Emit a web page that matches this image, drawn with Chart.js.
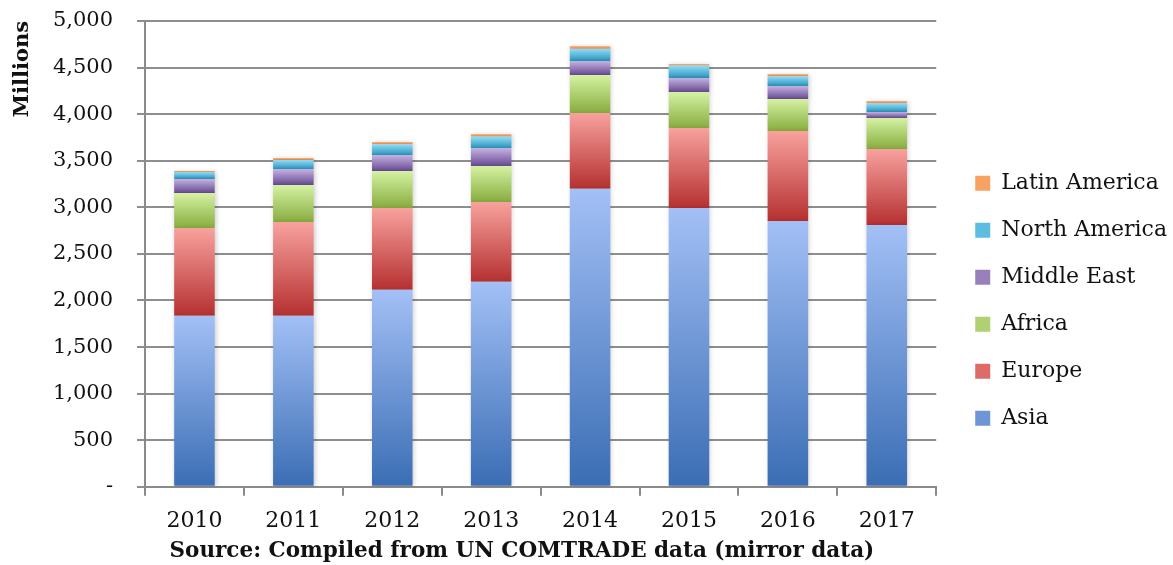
<!DOCTYPE html>
<html>
<head>
<meta charset="utf-8">
<script src="https://cdn.jsdelivr.net/npm/chart.js@4.4.0/dist/chart.umd.min.js"></script>
<style>
  html, body { margin: 0; padding: 0; background: #fff; }
  #wrap { width: 1173px; height: 565px; }
</style>
</head>
<body>
<div id="wrap"><canvas id="barChart"></canvas></div>
<script>
var years = ['2010', '2011', '2012', '2013', '2014', '2015', '2016', '2017'];
var asia        = [1835, 1835, 2114, 2200, 3198, 2994, 2854, 2811];
var europe      = [944, 1008, 880, 858, 815, 858, 966, 816];
var africa      = [376, 397, 397, 386, 408, 386, 343, 332];
var middleEast  = [150, 172, 171, 193, 150, 151, 140, 65];
var northAm     = [75, 97, 115, 122, 132, 132, 104, 93];
var latinAm     = [11, 21, 25, 29, 29, 18, 24, 25];
var seriesNames = ['Asia', 'Europe', 'Africa', 'Middle East', 'North America', 'Latin America'];
var yTicks = [0, 500, 1000, 1500, 2000, 2500, 3000, 3500, 4000, 4500, 5000];

var serif = "'DejaVu Serif', serif";
var allSeries = [asia, europe, africa, middleEast, northAm, latinAm];
// light top, dark bottom, flat colour for the legend box
var shades = [
    ['#a3c0f6', '#3a6db4', '#6e95d6'],
    ['#f8a29e', '#b53030', '#dd6b68'],
    ['#d5f2a3', '#88ad3f', '#afd172'],
    ['#c6b3e2', '#674a92', '#9880bd'],
    ['#93dcf7', '#2996bd', '#5cbde0'],
    ['#fbbf8e', '#f5883a', '#f8a262']
];

function barFill(d) {
    return function (c) {
        var chart = c.chart;
        var y = chart.scales.y;
        if (!y || c.dataIndex === undefined) return shades[d][2];
        var base = 0;
        for (var k = 0; k < d; k++) base += allSeries[k][c.dataIndex];
        var top = base + allSeries[d][c.dataIndex];
        var y0 = y.getPixelForValue(top), y1 = y.getPixelForValue(base);
        if (!isFinite(y0) || !isFinite(y1) || y0 === y1) return shades[d][2];
        var g = chart.ctx.createLinearGradient(0, y0, 0, y1);
        g.addColorStop(0, shades[d][0]);
        g.addColorStop(1, shades[d][1]);
        return g;
    };
}

var datasets = allSeries.map(function (vals, d) {
    return {
        label: seriesNames[d],
        data: vals,
        backgroundColor: barFill(d),
        borderWidth: 0,
        categoryPercentage: 1,
        barPercentage: 0.41
    };
});

// nudge the legend to the right and give the bars a soft shadow
var tweaks = {
    id: 'tweaks',
    afterLayout: function (chart) {
        if (chart.legend) {
            chart.legend.left += 14;
            chart.legend.right += 14;
        }
    },
    beforeDatasetsDraw: function (chart) {
        var c = chart.ctx;
        c.save();
        c.shadowColor = 'rgba(0,0,0,0.22)';
        c.shadowBlur = 5;
        c.shadowOffsetX = 1;
        c.shadowOffsetY = 1;
    },
    afterDatasetsDraw: function (chart) {
        chart.ctx.restore();
    }
};

var ctx = document.getElementById('barChart').getContext('2d');
var myChart = new Chart(ctx, {
    type: 'bar',
    data: { labels: years, datasets: datasets },
    plugins: [tweaks],
    options: {
        responsive: true,
        maintainAspectRatio: false,
        animation: false,
        layout: { padding: { top: 0, left: 10, right: 10, bottom: 1 } },
        plugins: {
            tooltip: { enabled: false },
            legend: {
                position: 'right',
                reverse: true,
                title: { display: true, text: ' ', padding: 8, font: { size: 18 } },
                labels: {
                    boxWidth: 15,
                    boxHeight: 15,
                    padding: 25,
                    color: '#111',
                    font: { family: serif, size: 22 },
                    generateLabels: function (chart) {
                        return chart.data.datasets.map(function (ds, i) {
                            return {
                                text: ds.label,
                                fillStyle: shades[i][2],
                                strokeStyle: shades[i][2],
                                fontColor: '#111',
                                lineWidth: 0,
                                datasetIndex: i
                            };
                        });
                    }
                }
            }
        },
        scales: {
            x: {
                stacked: true,
                offset: true,
                border: { color: '#8a8a8a', width: 2 },
                grid: { offset: true, drawOnChartArea: false, drawTicks: true, tickLength: 9, color: '#8a8a8a', lineWidth: 2 },
                ticks: { color: '#111', font: { family: serif, size: 22 }, padding: 12 },
                title: {
                    display: true,
                    text: 'Source: Compiled from UN COMTRADE data (mirror data)     ',
                    color: '#111',
                    font: { family: serif, size: 21.5, weight: 'bold' },
                    padding: { top: -8, bottom: 0 }
                }
            },
            y: {
                stacked: true,
                min: 0,
                max: 5000,
                afterBuildTicks: function (axis) {
                    axis.ticks = yTicks.map(function (v) { return { value: v }; });
                },
                afterFit: function (axis) {
                    axis.width = 135;
                    axis.paddingTop = 21;
                },
                border: { color: '#8a8a8a', width: 2 },
                grid: { color: '#8e8e8e', lineWidth: 2, tickLength: 8 },
                ticks: {
                    color: '#111',
                    font: { family: serif, size: 21 },
                    padding: 24,
                    callback: function (v) { return v === 0 ? '-' : v.toLocaleString('en-US'); }
                },
                title: {
                    display: true,
                    text: 'Millions',
                    align: 'end',
                    color: '#111',
                    font: { family: serif, size: 21, weight: 'bold' },
                    padding: { top: 0, bottom: 8 }
                }
            }
        }
    }
});
</script>
</body>
</html>
